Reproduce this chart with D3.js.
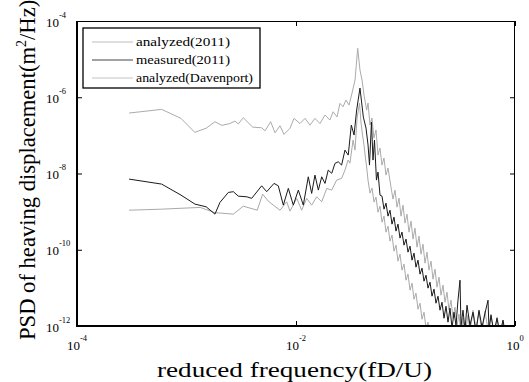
<!DOCTYPE html>
<html>
<head>
<meta charset="utf-8">
<script src="https://cdn.jsdelivr.net/npm/d3@7"></script>
<style>
  html, body { margin: 0; padding: 0; background: #fff; }
  svg { display: block; }
</style>
</head>
<body>
<svg id="chart" width="529" height="382"></svg>
<script>
// [reduced frequency, PSD]
const analyzed2011 = [
  [2.99e-4, 1.09e-9], [5.93e-4, 1.16e-9], [1.33e-3, 1.29e-9], [1.82e-3, 9.4e-10],
  [2.68e-3, 8.6e-10], [3.30e-3, 1.39e-9], [4.43e-3, 1.09e-9], [4.96e-3, 2.88e-9],
  [5.58e-3, 1.89e-9], [6.20e-3, 1.48e-9], [7.15e-3, 1.09e-9], [8.22e-3, 1.81e-9],
  [8.82e-3, 1.03e-9], [1.015e-2, 2.23e-9], [1.127e-2, 1.09e-9], [1.252e-2, 2.23e-9],
  [1.39e-2, 1.48e-9], [1.545e-2, 2.45e-9], [1.717e-2, 1.81e-9], [1.91e-2, 4.07e-9],
  [2.12e-2, 3.67e-9], [2.35e-2, 6.71e-9], [2.61e-2, 7.44e-9], [2.80e-2, 1.23e-8],
  [2.99e-2, 2.25e-8], [3.11e-2, 1.88e-8], [3.32e-2, 7.53e-8], [3.46e-2, 4.11e-8],
  [3.61e-2, 2.85e-7], [3.80e-2, 7.05e-7], [3.92e-2, 2.23e-7], [4.05e-2, 1.02e-7],
  [4.18e-2, 5.56e-8], [4.31e-2, 2.54e-8], [4.45e-2, 1.23e-8], [0.04545, 6.71e-9],
  [0.0474, 3.06e-9], [0.04944, 4.14e-9], [0.05157, 1.78e-9], [0.05378, 2.40e-9],
  [0.05609, 9.66e-10], [0.0585, 1.39e-9], [0.06102, 5.30e-10], [0.06364, 7.62e-10],
  [0.06637, 2.90e-10], [0.06923, 4.16e-10], [0.0722, 1.69e-10], [0.0753, 2.42e-10],
  [0.07854, 9.19e-11], [0.0819, 1.32e-10], [0.0854, 5.02e-11], [0.0891, 7.66e-11],
  [0.0929, 2.92e-11], [0.0969, 4.19e-11], [0.1011, 1.59e-11], [0.1054, 2.29e-11],
  [0.11, 8.7e-12], [0.1147, 1.33e-11], [0.1196, 5.05e-12], [0.1247, 7.26e-12],
  [0.1301, 2.76e-12], [0.1357, 3.96e-12], [0.1415, 1.51e-12], [0.1476, 2.30e-12],
  [0.1539, 8.8e-13], [0.1605, 1.26e-12], [0.1674, 4.75e-13], [0.1746, 7.3e-13],
  [0.1821, 3.1e-13]
]

const measured2011 = [
  [2.99e-4, 7.13e-9], [5.93e-4, 5.27e-9], [8.91e-4, 2.71e-9], [1.196e-3, 1.57e-9],
  [1.51e-3, 1.34e-9], [1.82e-3, 8.6e-10], [2.02e-3, 1.74e-9], [2.41e-3, 3.19e-9],
  [2.68e-3, 3.33e-9], [2.97e-3, 2.55e-9], [3.55e-3, 2.45e-9], [3.94e-3, 2.23e-9],
  [4.86e-3, 4.75e-9], [5.40e-3, 3.33e-9], [6.30e-3, 5.50e-9], [6.89e-3, 4.75e-9],
  [7.66e-3, 1.48e-9], [8.51e-3, 4.07e-9], [9.45e-3, 1.48e-9], [1.05e-2, 3.67e-9],
  [1.166e-2, 1.48e-9], [1.295e-2, 8.19e-9], [1.39e-2, 3.0e-9], [1.49e-2, 9.08e-9],
  [1.60e-2, 3.67e-9], [1.717e-2, 8.19e-9], [1.84e-2, 5.50e-9], [1.97e-2, 1.23e-8],
  [2.12e-2, 1.01e-8], [2.27e-2, 1.84e-8], [2.43e-2, 2.03e-8], [2.61e-2, 1.66e-8],
  [2.80e-2, 4.11e-8], [3.00e-2, 3.04e-8], [3.20e-2, 1.86e-7], [3.39e-2, 1.02e-7],
  [3.58e-2, 4.61e-7], [3.84e-2, 1.74e-6], [4.12e-2, 3.02e-7], [4.36e-2, 1.55e-7],
  [4.55e-2, 5.56e-8], [4.69e-2, 1.66e-8], [4.89e-2, 2.23e-7], [5.05e-2, 2.25e-8],
  [5.21e-2, 7.53e-8], [5.43e-2, 6.71e-9], [5.61e-2, 1.09e-8], [5.85e-2, 2.71e-9],
  [0.06102, 2.55e-9], [0.06364, 1.16e-9], [0.06637, 1.67e-9], [0.06923, 7.62e-10],
  [0.0722, 1.09e-9], [0.0753, 4.70e-10], [0.07854, 7.18e-10], [0.0819, 3.08e-10],
  [0.0854, 4.70e-10], [0.0891, 2.02e-10], [0.0929, 2.90e-10], [0.0969, 1.32e-10],
  [0.1011, 1.90e-10], [0.1054, 8.65e-11], [0.11, 1.24e-10], [0.1147, 5.33e-11],
  [0.1196, 8.14e-11], [0.1247, 3.49e-11], [0.1301, 5.33e-11], [0.1357, 2.29e-11],
  [0.1415, 3.29e-11], [0.1476, 1.50e-11], [0.1539, 2.15e-11], [0.1605, 9.84e-12],
  [0.1674, 1.41e-11], [0.1746, 6.05e-12], [0.1821, 9.27e-12], [0.1899, 3.96e-12],
  [0.1981, 6.05e-12], [0.2066, 2.60e-12], [0.2155, 4.21e-12], [0.2247, 1.60e-12],
  [0.2344, 3.30e-12], [0.2444, 1.26e-12], [0.2549, 2.93e-12], [0.2659, 8.8e-13],
  [0.2773, 2.30e-12], [0.2892, 1.05e-12], [0.3016, 4.75e-12], [0.3146, 1.59e-11],
  [0.3212, 9.9e-13], [0.335, 2.60e-12], [0.3494, 7.8e-13], [0.3645, 3.51e-12],
  [0.388, 1.05e-12], [0.4135, 2.30e-12], [0.44, 6.9e-13], [0.469, 2.60e-12],
  [0.4995, 9.3e-13], [0.532, 2.17e-12], [0.567, 4.75e-12], [0.579, 7.8e-13],
  [0.604, 1.92e-12], [0.643, 6.5e-13], [0.685, 1.60e-12], [0.73, 5.7e-13],
  [0.777, 1.42e-12], [0.828, 4.75e-13]
]

const analyzedDavenport = [
  [2.99e-4, 3.85e-7], [5.93e-4, 4.81e-7], [8.91e-4, 2.79e-7], [1.19e-3, 1.2e-7],
  [1.51e-3, 1.54e-7], [1.82e-3, 2.28e-7], [2.10e-3, 1.83e-7], [2.49e-3, 2.04e-7],
  [2.77e-3, 2.37e-7], [2.97e-3, 1.99e-7], [3.30e-3, 2.90e-7], [4.02e-3, 1.65e-7],
  [4.86e-3, 1.58e-7], [5.21e-3, 1.32e-7], [5.87e-3, 2.28e-7], [6.43e-3, 1.17e-7],
  [7.15e-3, 1.79e-7], [7.76e-3, 1.06e-7], [8.82e-3, 1.54e-7], [9.59e-3, 2.79e-7],
  [1.088e-2, 2.04e-7], [1.209e-2, 2.79e-7], [1.342e-2, 1.86e-7], [1.49e-2, 2.79e-7],
  [1.656e-2, 2.04e-7], [1.84e-2, 3.41e-7], [2.04e-2, 2.52e-7], [2.18e-2, 4.16e-7],
  [2.37e-2, 3.05e-7], [2.52e-2, 6.92e-7], [2.69e-2, 5.63e-7], [2.86e-2, 8.44e-7],
  [3.05e-2, 6.24e-7], [3.25e-2, 1.29e-6], [3.46e-2, 2.83e-6], [3.66e-2, 1.92e-5],
  [3.84e-2, 5.18e-6], [4.01e-2, 2.83e-6], [4.18e-2, 1.14e-6], [4.42e-2, 4.61e-7],
  [4.55e-2, 7.05e-7], [4.74e-2, 1.86e-7], [4.94e-2, 2.85e-7], [5.15e-2, 8.5e-8],
  [5.38e-2, 1.38e-7], [5.61e-2, 3.04e-8], [5.85e-2, 4.64e-8], [6.10e-2, 1.66e-8],
  [6.36e-2, 2.54e-8], [6.64e-2, 9.08e-9], [6.92e-2, 1.39e-8], [0.0737, 4.40e-9],
  [0.07687, 2.13e-9], [0.0802, 3.67e-9], [0.0837, 1.31e-9], [0.0872, 2.26e-9],
  [0.091, 7.62e-10], [0.0949, 1.48e-9], [0.099, 5.00e-10], [0.1032, 8.6e-10],
  [0.1076, 2.90e-10], [0.1123, 5.63e-10], [0.1171, 1.90e-10], [0.1221, 3.69e-10],
  [0.1274, 1.17e-10], [0.1328, 2.28e-10], [0.1386, 7.66e-11], [0.1445, 1.40e-10],
  [0.1507, 4.45e-11], [0.1572, 8.65e-11], [0.1639, 2.92e-11], [0.171, 5.02e-11],
  [0.1783, 1.69e-11], [0.186, 3.10e-11], [0.194, 1.04e-11], [0.2023, 1.91e-11],
  [0.211, 6.43e-12], [0.2201, 1.18e-11], [0.2295, 4.21e-12], [0.2393, 7.71e-12],
  [0.2496, 2.60e-12], [0.2603, 4.75e-12], [0.2715, 1.60e-12], [0.2832, 3.11e-12],
  [0.2953, 9.9e-13], [0.308, 2.04e-12], [0.3212, 6.1e-13], [0.335, 1.60e-12],
  [0.3494, 5.7e-13], [0.3722, 1.92e-12], [0.388, 6.9e-13], [0.4135, 2.60e-12],
  [0.44, 8.8e-13], [0.469, 2.30e-12], [0.4995, 6.5e-13], [0.532, 2.45e-12],
  [0.567, 7.8e-13], [0.604, 2.04e-12], [0.643, 5.4e-13], [0.685, 1.70e-12],
  [0.73, 6.9e-13], [0.777, 1.42e-12], [0.828, 4.2e-13]
]

const xTicks = [1e-4, 1e-2, 1]
const yTicks = [1e-12, 1e-10, 1e-8, 1e-6, 1e-4]
const legendNames = ['analyzed(2011)', 'measured(2011)', 'analyzed(Davenport)']

const width = 529
const height = 382
const margin = { top: 21, right: 14, bottom: 56, left: 77 }
const font = '"Liberation Serif", "Times New Roman", serif'

const svg = d3.select('#chart')

const x = d3.scaleLog().domain([1e-4, 1]).range([margin.left, width - margin.right])
const y = d3.scaleLog().domain([1e-12, 1e-4]).range([height - margin.bottom, margin.top])

const x0 = x.range()[0], x1 = x.range()[1]
const y0 = y.range()[0], y1 = y.range()[1]

svg.append('rect').attr('width', width).attr('height', height).attr('fill', '#fff')

svg.append('clipPath').attr('id', 'plotClip')
  .append('rect')
  .attr('x', x0).attr('y', y1)
  .attr('width', x1 - x0).attr('height', y0 - y1)

const series = [
  { name: legendNames[0], data: analyzed2011, color: '#a9a9a9' },
  { name: legendNames[2], data: analyzedDavenport, color: '#ababab' },
  { name: legendNames[1], data: measured2011, color: '#1a1a1a' },
]

const line = d3.line()
  .x((d) => x(d[0]))
  .y((d) => y(d[1]))

svg.append('g')
  .attr('clip-path', 'url(#plotClip)')
  .selectAll('path')
  .data(series)
  .join('path')
  .attr('d', (d) => line(d.data))
  .attr('fill', 'none')
  .attr('stroke', (d) => d.color)
  .attr('stroke-width', 1)
  .attr('stroke-linejoin', 'round')

// ticks on all four sides, pointing inward
const tickG = svg.append('g').attr('class', 'ticks')
tickG.append('g').attr('transform', `translate(0,${y0})`)
  .call(d3.axisBottom(x).tickValues(xTicks).tickSizeInner(-5).tickSizeOuter(0).tickFormat(''))
tickG.append('g').attr('transform', `translate(0,${y1})`)
  .call(d3.axisTop(x).tickValues(xTicks).tickSizeInner(-5).tickSizeOuter(0).tickFormat(''))
tickG.append('g').attr('transform', `translate(${x0},0)`)
  .call(d3.axisLeft(y).tickValues(yTicks).tickSizeInner(-5).tickSizeOuter(0).tickFormat(''))
tickG.append('g').attr('transform', `translate(${x1},0)`)
  .call(d3.axisRight(y).tickValues(yTicks).tickSizeInner(-5).tickSizeOuter(0).tickFormat(''))
tickG.selectAll('.domain').remove()
tickG.selectAll('line').attr('stroke', '#000').attr('stroke-width', 1)

// frame: left and bottom heavier
svg.append('line').attr('x1', x0).attr('x2', x1).attr('y1', y1 + 0.5).attr('y2', y1 + 0.5)
  .attr('stroke', '#000').attr('stroke-width', 1)
svg.append('line').attr('x1', x1 - 0.5).attr('x2', x1 - 0.5).attr('y1', y1).attr('y2', y0)
  .attr('stroke', '#000').attr('stroke-width', 1)
svg.append('line').attr('x1', x0 - 1).attr('x2', x1).attr('y1', y0).attr('y2', y0)
  .attr('stroke', '#000').attr('stroke-width', 2)
svg.append('line').attr('x1', x0).attr('x2', x0).attr('y1', y1).attr('y2', y0 + 1)
  .attr('stroke', '#000').attr('stroke-width', 2)

const exp = (d) => String(Math.round(Math.log10(d)))

// x tick labels
const xl = svg.append('g')
  .attr('font-family', font)
  .selectAll('text')
  .data(xTicks)
  .join('text')
  .attr('x', (d) => x(d))
  .attr('y', y0 + 24)
  .attr('text-anchor', 'middle')
  .attr('font-size', 13)
xl.append('tspan').text('10')
xl.append('tspan').attr('font-size', 8.5).attr('dy', -9).text((d) => exp(d))

// y tick labels
const yl = svg.append('g')
  .attr('font-family', font)
  .selectAll('text')
  .data(yTicks)
  .join('text')
  .attr('x', 46)
  .attr('y', (d) => y(d) + 5.5)
  .attr('font-size', 13)
yl.append('tspan').text('10')
yl.append('tspan').attr('font-size', 8.5).attr('dy', -9).text((d) => exp(d))

// axis titles
svg.append('text')
  .attr('x', 157)
  .attr('y', 377)
  .attr('font-family', font)
  .attr('font-size', 22)
  .attr('textLength', 275)
  .attr('lengthAdjust', 'spacingAndGlyphs')
  .text('reduced frequency(fD/U)')

const yt = svg.append('text')
  .attr('transform', 'translate(35,340) rotate(-90)')
  .attr('font-family', font)
  .attr('font-size', 22.6)
yt.append('tspan').text('PSD of heaving displacement(m')
yt.append('tspan').attr('font-size', 14).attr('dy', -9).text('2')
yt.append('tspan').attr('dy', 9).text('/Hz)')

// legend
const legend = svg.append('g').attr('font-family', font)
legend.append('rect')
  .attr('x', 83).attr('y', 28)
  .attr('width', 177).attr('height', 60)
  .attr('fill', '#fff')
  .attr('stroke', '#000')
  .attr('stroke-width', 1.3)

const legendItems = [
  { name: legendNames[0], color: '#bdbdbd', len: 94 },
  { name: legendNames[1], color: '#444', len: 94 },
  { name: legendNames[2], color: '#c4c4c4', len: 117 },
]
const row = legend.selectAll('g.item')
  .data(legendItems)
  .join('g')
  .attr('class', 'item')
  .attr('transform', (d, i) => `translate(0,${42 + i * 18})`)
row.append('line')
  .attr('x1', 92).attr('x2', 133)
  .attr('y1', 0).attr('y2', 0)
  .attr('stroke', (d) => d.color)
  .attr('stroke-width', 1)
row.append('text')
  .attr('x', 136)
  .attr('y', 3.5)
  .attr('font-size', 13)
  .attr('textLength', (d) => d.len)
  .attr('lengthAdjust', 'spacingAndGlyphs')
  .text((d) => d.name)
</script>
</body>
</html>
